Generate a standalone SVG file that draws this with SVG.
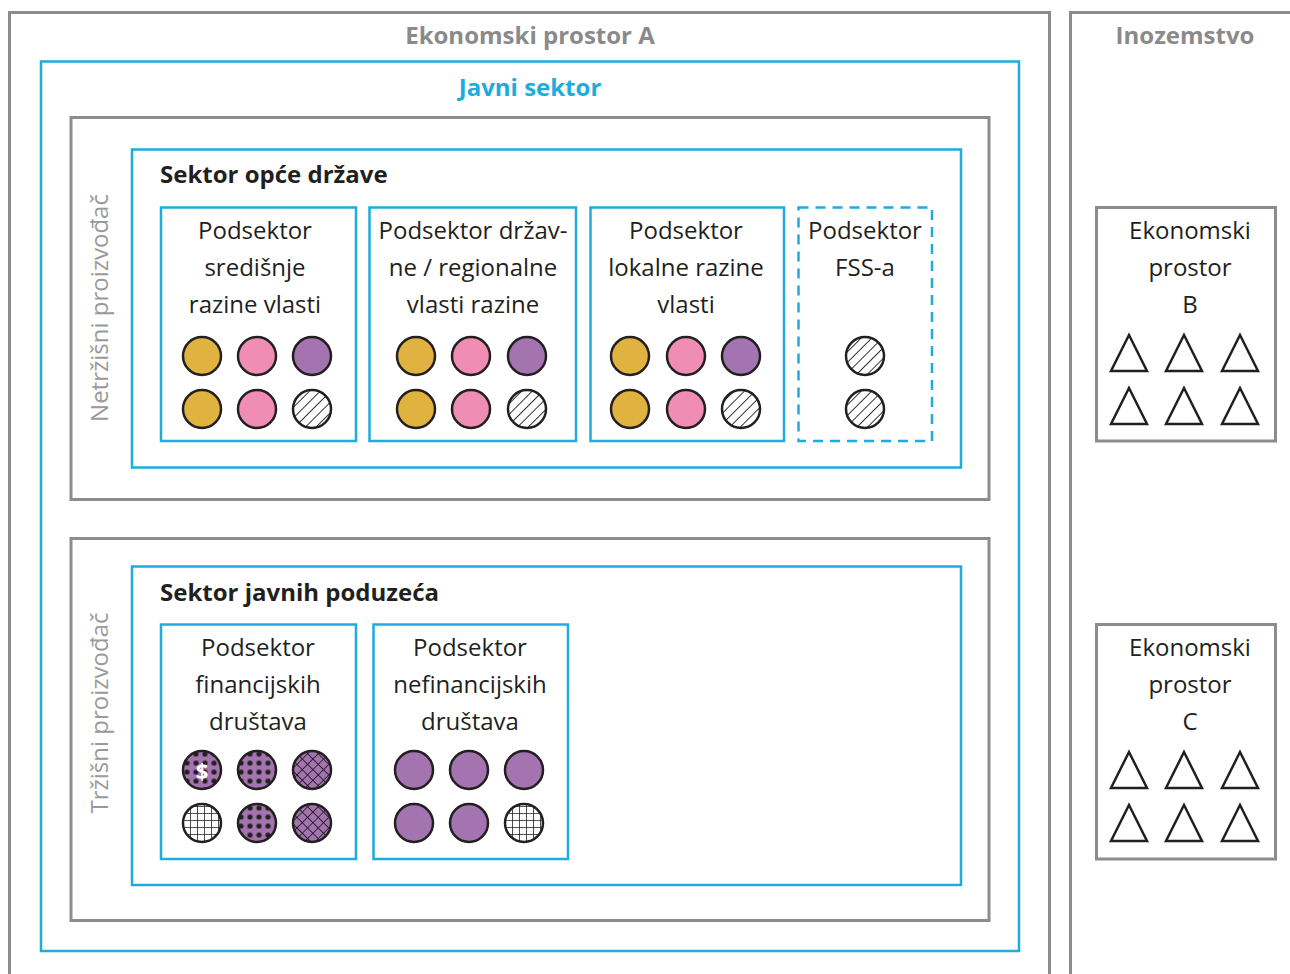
<svg xmlns="http://www.w3.org/2000/svg" width="1290" height="974" viewBox="0 0 1290 974">
<style>
.gray{fill:none;stroke:#8c8c8c;stroke-width:3}
.blue{fill:none;stroke:#1eabdd;stroke-width:2.5}
.dash{fill:none;stroke:#1eabdd;stroke-width:2.5;stroke-dasharray:10 7}
.t{font-family:"Open Sans","Noto Sans",sans-serif;font-size:24px;fill:#231f20;text-anchor:middle}
.b{font-family:"Open Sans","Noto Sans",sans-serif;font-size:24px;font-weight:bold;fill:#231f20}
.h{font-family:"Open Sans","Noto Sans",sans-serif;font-size:24px;font-weight:bold;fill:#8a8a8a;text-anchor:middle}
.v{font-family:"Open Sans","Noto Sans",sans-serif;font-size:24px;fill:#9a9a9a;text-anchor:middle}
.c{stroke:#231f20;stroke-width:2.5}
.y{fill:#e0b340}.p{fill:#f08db5}.u{fill:#a374b0}
.hat{fill:url(#hatch)}.dot{fill:url(#dots)}.xh{fill:url(#xh)}.grid{fill:url(#grid)}
.tri{fill:none;stroke:#231f20;stroke-width:2.5;stroke-linejoin:miter}
</style>
<defs>
<pattern id="hatch" patternUnits="userSpaceOnUse" width="7.5" height="7.5" patternTransform="rotate(45)">
<rect width="7.5" height="7.5" fill="#fff"/><line x1="0" y1="0" x2="0" y2="7.5" stroke="#231f20" stroke-width="1.8"/>
</pattern>
<pattern id="dots" patternUnits="userSpaceOnUse" width="9" height="9" x="2.5" y="2.5">
<rect width="9" height="9" fill="#a374b0"/><circle cx="4.5" cy="4.5" r="2.6" fill="#231f20"/>
</pattern>
<pattern id="xh" patternUnits="userSpaceOnUse" width="7.5" height="7.5" patternTransform="rotate(45)">
<rect width="7.5" height="7.5" fill="#a374b0"/><path d="M0 0V7.5M0 0H7.5" stroke="#231f20" stroke-width="1.7"/>
</pattern>
<pattern id="grid" patternUnits="userSpaceOnUse" width="7" height="7" x="1" y="1">
<rect width="7" height="7" fill="#fff"/><path d="M0 0V7M0 0H7" stroke="#231f20" stroke-width="1.6"/>
</pattern>
<path id="tr" d="M0 -18 L18 18 L-18 18 Z"/>
</defs>

<g id="ekonomski-prostor-a">
<rect class="gray" x="9.5" y="12.5" width="1040" height="980"/>
<text class="h" x="530" y="44">Ekonomski prostor A</text>
</g>
<g id="inozemstvo">
<rect class="gray" x="1070.5" y="12.5" width="240" height="980"/>
<text class="h" x="1185" y="44">Inozemstvo</text>
</g>
<g id="javni-sektor">
<rect class="blue" x="41" y="61.5" width="978" height="889.5"/>
<text class="h" x="530" y="96" style="fill:#1eabdd">Javni sektor</text>
</g>
<g id="netrzisni">
<rect class="gray" x="71" y="117.5" width="918" height="382"/>
<text class="v" transform="translate(108 308) rotate(-90)">Netržišni proizvođač</text>
</g>
<g id="sektor-opce-drzave">
<rect class="blue" x="132" y="149.5" width="829" height="318"/>
<text class="b" x="160" y="183">Sektor opće države</text>
</g>
<g id="pod-sredisnje">
<rect class="blue" x="161" y="207.5" width="195" height="233.5"/>
<text class="t" x="255" y="239">Podsektor</text>
<text class="t" x="255" y="276">središnje</text>
<text class="t" x="255" y="313">razine vlasti</text>
<circle class="c y" cx="202" cy="356" r="19"/><circle class="c p" cx="257" cy="356" r="19"/><circle class="c u" cx="312" cy="356" r="19"/>
<circle class="c y" cx="202" cy="409" r="19"/><circle class="c p" cx="257" cy="409" r="19"/><circle class="c hat" cx="312" cy="409" r="19"/>
</g>
<g id="pod-drzavne">
<rect class="blue" x="369.5" y="207.5" width="206.5" height="233.5"/>
<text class="t" x="473" y="239">Podsektor držav-</text>
<text class="t" x="473" y="276">ne / regionalne</text>
<text class="t" x="473" y="313">vlasti razine</text>
<circle class="c y" cx="416" cy="356" r="19"/><circle class="c p" cx="471" cy="356" r="19"/><circle class="c u" cx="527" cy="356" r="19"/>
<circle class="c y" cx="416" cy="409" r="19"/><circle class="c p" cx="471" cy="409" r="19"/><circle class="c hat" cx="527" cy="409" r="19"/>
</g>
<g id="pod-lokalne">
<rect class="blue" x="590.5" y="207.5" width="193.5" height="233.5"/>
<text class="t" x="686" y="239">Podsektor</text>
<text class="t" x="686" y="276">lokalne razine</text>
<text class="t" x="686" y="313">vlasti</text>
<circle class="c y" cx="630" cy="356" r="19"/><circle class="c p" cx="686" cy="356" r="19"/><circle class="c u" cx="741" cy="356" r="19"/>
<circle class="c y" cx="630" cy="409" r="19"/><circle class="c p" cx="686" cy="409" r="19"/><circle class="c hat" cx="741" cy="409" r="19"/>
</g>
<g id="pod-fss">
<rect class="dash" x="798.5" y="207.5" width="133.5" height="233.5"/>
<text class="t" x="865" y="239">Podsektor</text>
<text class="t" x="865" y="276">FSS-a</text>
<circle class="c hat" cx="865" cy="356" r="19"/>
<circle class="c hat" cx="865" cy="409" r="19"/>
</g>

<g id="trzisni">
<rect class="gray" x="71" y="538.5" width="918" height="382"/>
<text class="v" transform="translate(108 713) rotate(-90)">Tržišni proizvođač</text>
</g>
<g id="sektor-javnih-poduzeca">
<rect class="blue" x="132" y="566.5" width="829" height="318.5"/>
<text class="b" x="160" y="601">Sektor javnih poduzeća</text>
</g>
<g id="pod-financijskih">
<rect class="blue" x="161" y="624.5" width="195" height="234.5"/>
<text class="t" x="258" y="656">Podsektor</text>
<text class="t" x="258" y="693">financijskih</text>
<text class="t" x="258" y="730">društava</text>
<circle class="c dot" cx="202" cy="770" r="19"/>
<text x="202" y="779" style="font-family:'Open Sans',sans-serif;font-size:22px;font-weight:bold;fill:#fff;text-anchor:middle">$</text>
<circle class="c dot" cx="257" cy="770" r="19"/><circle class="c xh" cx="312" cy="770" r="19"/>
<circle class="c grid" cx="202" cy="823" r="19"/><circle class="c dot" cx="257" cy="823" r="19"/><circle class="c xh" cx="312" cy="823" r="19"/>
</g>
<g id="pod-nefinancijskih">
<rect class="blue" x="373.5" y="624.5" width="194.5" height="234.5"/>
<text class="t" x="470" y="656">Podsektor</text>
<text class="t" x="470" y="693">nefinancijskih</text>
<text class="t" x="470" y="730">društava</text>
<circle class="c u" cx="414" cy="770" r="19"/><circle class="c u" cx="469" cy="770" r="19"/><circle class="c u" cx="524" cy="770" r="19"/>
<circle class="c u" cx="414" cy="823" r="19"/><circle class="c u" cx="469" cy="823" r="19"/><circle class="c grid" cx="524" cy="823" r="19"/>
</g>

<g id="ekonomski-prostor-b">
<rect class="gray" x="1096.5" y="207.5" width="179" height="233.5"/>
<text class="t" x="1190" y="239">Ekonomski</text>
<text class="t" x="1190" y="276">prostor</text>
<text class="t" x="1190" y="313">B</text>
<use href="#tr" class="tri" x="1129" y="353"/><use href="#tr" class="tri" x="1184" y="353"/><use href="#tr" class="tri" x="1240" y="353"/>
<use href="#tr" class="tri" x="1129" y="406"/><use href="#tr" class="tri" x="1184" y="406"/><use href="#tr" class="tri" x="1240" y="406"/>
</g>
<g id="ekonomski-prostor-c">
<rect class="gray" x="1096.5" y="624.5" width="179" height="234.5"/>
<text class="t" x="1190" y="656">Ekonomski</text>
<text class="t" x="1190" y="693">prostor</text>
<text class="t" x="1190" y="730">C</text>
<use href="#tr" class="tri" x="1129" y="770"/><use href="#tr" class="tri" x="1184" y="770"/><use href="#tr" class="tri" x="1240" y="770"/>
<use href="#tr" class="tri" x="1129" y="823"/><use href="#tr" class="tri" x="1184" y="823"/><use href="#tr" class="tri" x="1240" y="823"/>
</g>
<g id="connectors"></g>
</svg>
